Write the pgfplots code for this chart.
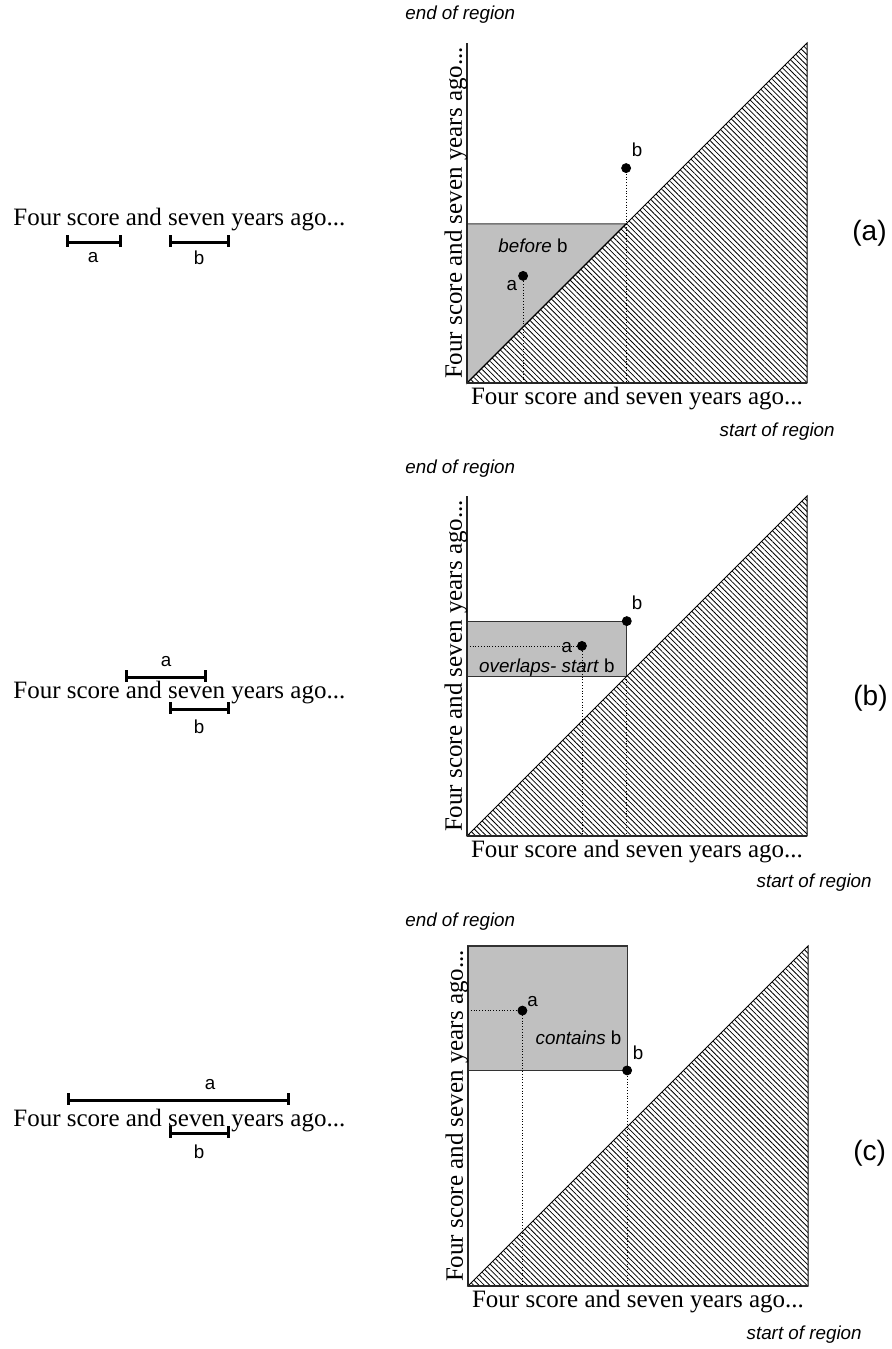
\documentclass[border=0pt]{standalone}
\usepackage{fontspec}
\setmainfont{Liberation Serif}
\setsansfont{Liberation Sans}
\usepackage{pgfplots}
\pgfplotsset{compat=1.18}
\usetikzlibrary{patterns.meta}

\definecolor{shade}{RGB}{192,192,192}
\newcommand{\lab}{\fontsize{9.4}{11}\selectfont\sffamily}
\newcommand{\serif}{\fontsize{12.5}{14}\selectfont\rmfamily}
\newcommand{\tag}{\fontsize{14}{16}\selectfont\sffamily}
\newcommand{\phrase}{Four score and seven years ago...}

\pgfplotsset{
  panel/.style={
    width=170pt, height=170pt, scale only axis,
    xmin=0, xmax=1, ymin=0, ymax=1,
    axis lines=left, axis line style={-, line width=0.6pt, black!85},
    axis on top, ticks=none, clip=false, anchor=south west,
    xlabel={\phrase}, ylabel={\phrase},
    xlabel style={at={(axis description cs:0.5,-0.062)}, anchor=base, font=\serif},
    ylabel style={at={(axis description cs:-0.015,0.5)}, anchor=base, font=\serif},
  },
  hatch/.style={draw=black, line width=0.5pt,
    pattern={Lines[angle=-45, distance=1.9pt, line width=0.4pt]}},
  box/.style={fill=shade, draw=black!80, line width=0.6pt},
  guide/.style={densely dotted, line width=0.4pt, black},
  pts/.style={only marks, mark=*, mark size=2.25pt, black},
  bar/.style={line width=1.5pt, black, unbounded coords=jump},
}
\tikzset{flush/.style={inner sep=0pt}}

\begin{document}
\begin{tikzpicture}
\useasboundingbox (0,0) rectangle (445.5pt,674.5pt);

% page layer, in pixels of the reference
\begin{axis}[at={(0,0)}, anchor=south west, width=445.5pt, height=674.5pt,
  scale only axis, hide axis, clip=false,
  xmin=0, xmax=891, ymin=0, ymax=1349, y dir=reverse]
% (a) before
\addplot[bar] coordinates {(67,235)(67,247)(67,nan)(67,242)(120,242)(120,nan)(120,235)(120,247)};
\addplot[bar] coordinates {(170,235)(170,247)(170,nan)(170,242)(228,242)(228,nan)(228,235)(228,247)};
\node[flush, anchor=base west, font=\serif] at (axis cs:13,225) {\phrase};
\node[font=\lab] at (axis cs:93,258) {a};
\node[font=\lab] at (axis cs:199,258) {b};
\node[flush, anchor=west, font=\lab\itshape] at (axis cs:405,15) {end of region};
\node[flush, anchor=east, font=\lab\itshape] at (axis cs:835,432) {start of region};
\node[flush, anchor=west, font=\tag] at (axis cs:852,233) {(a)};
\coordinate (pa) at (axis cs:467,383);
% (b) overlaps-start
\addplot[bar] coordinates {(126,670)(126,682)(126,nan)(126,677)(205,677)(205,nan)(205,670)(205,682)};
\addplot[bar] coordinates {(170,702)(170,714)(170,nan)(170,709)(228,709)(228,nan)(228,702)(228,714)};
\node[flush, anchor=base west, font=\serif] at (axis cs:13,698) {\phrase};
\node[font=\lab] at (axis cs:166,662) {a};
\node[font=\lab] at (axis cs:199,727) {b};
\node[flush, anchor=west, font=\lab\itshape] at (axis cs:405,469) {end of region};
\node[flush, anchor=east, font=\lab\itshape] at (axis cs:872,883) {start of region};
\node[flush, anchor=west, font=\tag] at (axis cs:853,698) {(b)};
\coordinate (pb) at (axis cs:467,836);
% (c) contains
\addplot[bar] coordinates {(68,1093)(68,1105)(68,nan)(68,1100)(288,1100)(288,nan)(288,1093)(288,1105)};
\addplot[bar] coordinates {(170,1126)(170,1138)(170,nan)(170,1133)(228,1133)(228,nan)(228,1126)(228,1138)};
\node[flush, anchor=base west, font=\serif] at (axis cs:13,1126) {\phrase};
\node[font=\lab] at (axis cs:210,1085) {a};
\node[font=\lab] at (axis cs:199,1152) {b};
\node[flush, anchor=west, font=\lab\itshape] at (axis cs:405,922) {end of region};
\node[flush, anchor=east, font=\lab\itshape] at (axis cs:862,1335) {start of region};
\node[flush, anchor=west, font=\tag] at (axis cs:853,1153) {(c)};
\coordinate (pc) at (axis cs:468,1286);
\end{axis}

% (a)
\begin{axis}[panel, at={(pa)}]
\addplot[box] coordinates {(0,0)(0.468,0.468)(0,0.468)} -- cycle;
\addplot[hatch] coordinates {(0,0)(1,0)(1,1)} -- cycle;
\addplot[guide] coordinates {(0.165,0.315)(0.165,0)};
\addplot[guide] coordinates {(0.468,0.632)(0.468,0)};
\addplot[pts] coordinates {(0.165,0.315)(0.468,0.632)};
\node[font=\lab] at (axis cs:0.132,0.288) {a};
\node[font=\lab] at (axis cs:0.5,0.685) {b};
\node[font=\lab] at (axis cs:0.194,0.403) {\textit{before} b};
\end{axis}

% (b)
\begin{axis}[panel, at={(pb)}]
\addplot[box] coordinates {(0,0.47)(0.47,0.47)(0.47,0.632)(0,0.632)} -- cycle;
\addplot[hatch] coordinates {(0,0)(1,0)(1,1)} -- cycle;
\addplot[guide] coordinates {(0,0.559)(0.338,0.559)(0.338,0)};
\addplot[guide] coordinates {(0.47,0.47)(0.47,0)};
\addplot[pts] coordinates {(0.338,0.559)(0.47,0.632)};
\node[font=\lab] at (axis cs:0.294,0.553) {a};
\node[font=\lab] at (axis cs:0.5,0.685) {b};
\node[font=\lab] at (axis cs:0.235,0.494) {\textit{overlaps- start} b};
\end{axis}

% (c)
\begin{axis}[panel, at={(pc)}]
\addplot[box] coordinates {(0,0.634)(0.468,0.634)(0.468,1)(0,1)} -- cycle;
\addplot[hatch] coordinates {(0,0)(1,0)(1,1)} -- cycle;
\addplot[guide] coordinates {(0,0.81)(0.16,0.81)(0.16,0)};
\addplot[guide] coordinates {(0.468,0.634)(0.468,0)};
\addplot[pts] coordinates {(0.16,0.81)(0.468,0.634)};
\node[font=\lab] at (axis cs:0.19,0.838) {a};
\node[font=\lab] at (axis cs:0.5,0.687) {b};
\node[font=\lab] at (axis cs:0.325,0.73) {\textit{contains} b};
\end{axis}
\end{tikzpicture}
\end{document}
